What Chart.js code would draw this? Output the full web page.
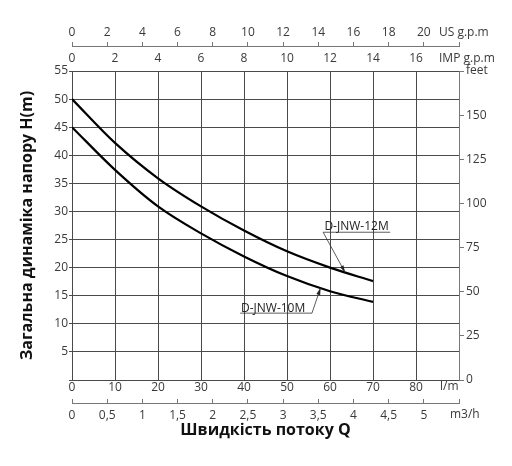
<!DOCTYPE html>
<html>
<head>
<meta charset="utf-8">
<script src="https://cdn.jsdelivr.net/npm/chart.js@4.4.1/dist/chart.umd.min.js"></script>
<style>
  body { margin: 0; background: #fff; }
  canvas { display: block; }
</style>
</head>
<body>
<canvas id="pumpChart" width="512" height="466"></canvas>
<script>
'use strict';

// flow in l/m, head in metres
const flowLpm = [0, 10, 20, 30, 40, 50, 60, 70];
const head12M = [50, 42.2, 35.9, 30.9, 26.6, 22.9, 20, 17.6];
const head10M = [45, 37.4, 30.9, 26.1, 22, 18.5, 15.8, 13.9];
const seriesNames = ['D-JNW-12M', 'D-JNW-10M'];

// axis ranges as printed on the sheet
const lpmMax = 90;
const m3hMax = 5.5;
const usMax = 22;
const impMax = 18;
const headMax = 55;
const feetMax = 175.5;
const feetTicks = [0, 25, 50, 75, 100, 125, 150];

const gridColor = '#4a4a4a';
const axisColor = '#777';
const textColor = '#3a3a3a';
const tickFont = { family: "'Open Sans', sans-serif", size: 12 };

const comma = (v) => String(v).replace('.', ',');

function headAt(heads, q) {
  for (let i = 1; i < flowLpm.length; i++) {
    if (q <= flowLpm[i]) {
      const t = (q - flowLpm[i - 1]) / (flowLpm[i] - flowLpm[i - 1]);
      return heads[i - 1] + t * (heads[i] - heads[i - 1]);
    }
  }
  return heads[heads.length - 1];
}

// callouts for the two curves, in data units
const callouts = [
  { text: seriesNames[0], heads: head12M, textX: 58.7, textY: 27.3, lineY: 26.3, from: 58.4, to: 74, anchor: 58.4, tip: 63.5 },
  { text: seriesNames[1], heads: head10M, textX: 39.3, textY: 12.8, lineY: 11.9, from: 39.1, to: 55.8, anchor: 55.8, tip: 57.8 },
];

const extraText = {
  id: 'extraText',
  afterDraw(chart) {
    const { ctx, chartArea, scales } = chart;
    ctx.save();
    ctx.font = "12px 'Open Sans', sans-serif";
    ctx.fillStyle = textColor;
    ctx.textBaseline = 'middle';
    ctx.textAlign = 'left';
    ctx.fillText('US g.p.m', chartArea.right - 20, scales.us.bottom - 13);
    ctx.fillText('IMP g.p.m', chartArea.right - 20, scales.imp.bottom - 12);
    ctx.fillText('l/m', chartArea.right - 19, scales.x.top + 7);
    ctx.fillText('m3/h', chartArea.right - 9, scales.m3h.top + 12);

    const xs = scales.x;
    const ys = scales.y;
    ctx.strokeStyle = '#333';
    ctx.fillStyle = '#222';
    ctx.lineWidth = 0.8;
    callouts.forEach((c) => {
      ctx.fillText(c.text, xs.getPixelForValue(c.textX), ys.getPixelForValue(c.textY));
      const ly = ys.getPixelForValue(c.lineY);
      ctx.beginPath();
      ctx.moveTo(xs.getPixelForValue(c.from), ly);
      ctx.lineTo(xs.getPixelForValue(c.to), ly);
      ctx.stroke();
      const ax = xs.getPixelForValue(c.anchor);
      const tx = xs.getPixelForValue(c.tip);
      const ty = ys.getPixelForValue(headAt(c.heads, c.tip));
      ctx.beginPath();
      ctx.moveTo(ax, ly);
      ctx.lineTo(tx, ty);
      ctx.stroke();
      const ang = Math.atan2(ty - ly, tx - ax);
      ctx.beginPath();
      ctx.moveTo(tx, ty);
      ctx.lineTo(tx - 7 * Math.cos(ang) + 2 * Math.sin(ang), ty - 7 * Math.sin(ang) - 2 * Math.cos(ang));
      ctx.lineTo(tx - 7 * Math.cos(ang) - 2 * Math.sin(ang), ty - 7 * Math.sin(ang) + 2 * Math.cos(ang));
      ctx.closePath();
      ctx.fill();
    });
    ctx.restore();
  },
};

const pumpChart = new Chart(document.getElementById('pumpChart'), {
  type: 'line',
  data: {
    datasets: [
      {
        label: seriesNames[0],
        data: flowLpm.map((q, i) => ({ x: q, y: head12M[i] })),
        borderColor: '#000',
        borderWidth: 2.2,
        pointRadius: 0,
        cubicInterpolationMode: 'monotone',
      },
      {
        label: seriesNames[1],
        data: flowLpm.map((q, i) => ({ x: q, y: head10M[i] })),
        borderColor: '#000',
        borderWidth: 2.2,
        pointRadius: 0,
        cubicInterpolationMode: 'monotone',
      },
    ],
  },
  plugins: [extraText],
  options: {
    responsive: false,
    animation: false,
    layout: { padding: { top: 20, bottom: 26, left: 0, right: 0 } },
    plugins: { legend: { display: false }, tooltip: { enabled: false } },
    scales: {
      x: {
        type: 'linear',
        position: 'bottom',
        weight: 0,
        min: 0,
        max: lpmMax,
        ticks: {
          stepSize: 10,
          padding: 0,
          color: textColor,
          font: tickFont,
          maxRotation: 0,
          callback: (v) => (v === lpmMax ? '' : v),
        },
        grid: { color: gridColor, drawTicks: false },
        border: { color: gridColor },
        afterFit: (s) => { s.height = 23; },
      },
      m3h: {
        type: 'linear',
        position: 'bottom',
        weight: 1,
        min: 0,
        max: m3hMax,
        ticks: {
          stepSize: 0.5,
          padding: 9,
          color: textColor,
          font: tickFont,
          maxRotation: 0,
          autoSkip: false,
          callback: (v) => (v === m3hMax ? '' : comma(v)),
        },
        grid: { drawOnChartArea: false, tickLength: -4, color: axisColor },
        border: { color: axisColor },
        title: {
          display: true,
          text: 'Швидкість потоку Q',
          color: '#111',
          font: { family: "'Open Sans', sans-serif", size: 16, weight: 'bold' },
          padding: 0,
        },
        afterFit: (s) => { s.height = 37; },
      },
      imp: {
        type: 'linear',
        position: 'top',
        weight: 0,
        min: 0,
        max: impMax,
        ticks: {
          stepSize: 2,
          padding: 5,
          color: textColor,
          font: tickFont,
          maxRotation: 0,
          callback: (v) => (v === impMax ? '' : v),
        },
        grid: { display: false, drawTicks: false },
        border: { display: false },
        afterFit: (s) => { s.height = 25; },
      },
      us: {
        type: 'linear',
        position: 'top',
        weight: 1,
        min: 0,
        max: usMax,
        ticks: {
          stepSize: 2,
          padding: 2,
          color: textColor,
          font: tickFont,
          maxRotation: 0,
          autoSkip: false,
          callback: (v) => (v === usMax ? '' : v),
        },
        grid: { drawOnChartArea: false, tickLength: 4, color: axisColor },
        border: { color: axisColor },
        afterFit: (s) => { s.height = 26; },
      },
      y: {
        type: 'linear',
        position: 'left',
        min: 0,
        max: headMax,
        ticks: {
          stepSize: 5,
          padding: 1,
          color: textColor,
          font: tickFont,
          callback: (v) => (v === 0 ? '' : v),
        },
        grid: { color: gridColor, tickLength: 3 },
        border: { color: gridColor },
        title: {
          display: true,
          text: 'Загальна динаміка напору H(m)',
          color: '#111',
          font: { family: "'Open Sans', sans-serif", size: 16, weight: 'bold' },
          padding: { top: 18, bottom: 0 },
        },
        afterFit: (s) => { s.width = 72; },
      },
      feet: {
        type: 'linear',
        position: 'right',
        min: 0,
        max: feetMax,
        afterBuildTicks: (s) => {
          s.ticks = feetTicks.concat([feetMax]).map((v) => ({ value: v }));
        },
        ticks: {
          padding: 2,
          color: textColor,
          font: tickFont,
          callback: (v) => (v === feetMax ? 'feet' : v),
        },
        grid: { drawOnChartArea: false, tickLength: 5, color: axisColor },
        border: { color: axisColor },
        afterFit: (s) => { s.width = 53; },
      },
    },
  },
});
</script>
</body>
</html>
